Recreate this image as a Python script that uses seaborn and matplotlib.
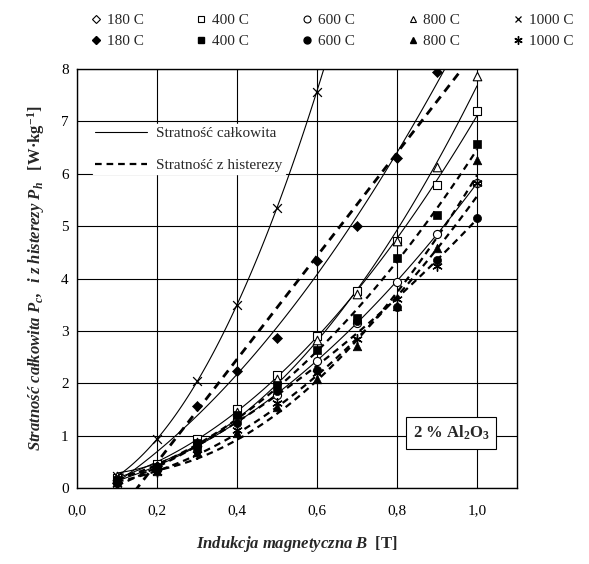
import numpy as np
import pandas as pd
import matplotlib
matplotlib.use("Agg")
import matplotlib.pyplot as plt
import seaborn as sns
from matplotlib.lines import Line2D
from matplotlib.ticker import MultipleLocator, FuncFormatter

# ---------------- data ----------------
B = [0.1, 0.2, 0.3, 0.4, 0.5, 0.6, 0.7, 0.8, 0.9, 1.0]
temps = ["180 C", "400 C", "600 C", "800 C", "1000 C"]

# total losses (open markers, solid trend lines)
total_180 = [0.20, 0.62, 1.30, 2.20, 3.08, 4.05, 5.20, 6.48, 7.75, 9.10]  # line only
total_400 = [0.20, 0.45, 0.93, 1.50, 2.16, 2.90, 3.77, 4.72, 5.78, 7.20]
total_600 = [0.15, 0.38, 0.80, 1.32, 1.78, 2.43, 3.15, 3.93, 4.85, 5.83]
total_800 = [0.22, 0.42, 0.88, 1.45, 2.08, 2.83, 3.70, 4.72, 6.13, 7.87]
total_1000 = [0.22, 0.93, 2.04, 3.50, 5.35, 7.57, 10.20, np.nan, np.nan, np.nan]

# hysteresis losses (filled markers, dashed trend lines)
hyst_180 = [0.10, 0.42, 1.57, 2.23, 2.87, 4.33, 5.00, 6.30, 7.94, 8.60]
hyst_400 = [0.15, 0.40, 0.85, 1.40, 1.97, 2.63, 3.25, 4.40, 5.22, 6.56]
hyst_600 = [0.10, 0.35, 0.75, 1.25, 1.85, 2.25, 3.18, 3.45, 4.35, 5.16]
hyst_800 = [0.12, 0.32, 0.68, 1.05, 1.55, 2.08, 2.72, 3.48, 4.59, 6.27]
hyst_1000 = [0.08, 0.30, 0.65, 1.10, 1.62, 2.20, 2.85, 3.60, 4.24, 5.83]

x_ticks = [0.0, 0.2, 0.4, 0.6, 0.8, 1.0]
y_ticks = [0, 1, 2, 3, 4, 5, 6, 7, 8]

# ---------------- style ----------------
sns.set_style("white")
plt.rcParams["font.family"] = ["Liberation Serif", "DejaVu Serif"]
plt.rcParams["mathtext.fontset"] = "custom"
plt.rcParams["mathtext.rm"] = "Liberation Serif"
plt.rcParams["mathtext.it"] = "Liberation Serif:italic"
plt.rcParams["mathtext.bf"] = "Liberation Serif:bold"
plt.rcParams["mathtext.bfit"] = "Liberation Serif:bold:italic"

W, H = 589, 564
fig = plt.figure(figsize=(W / 100, H / 100), dpi=100)
ax = fig.add_axes([77 / W, 1 - 488 / H, 440 / W, 419 / H])

open_sets = [(None, "D"), (total_400, "s"), (total_600, "o"), (total_800, "^"), (total_1000, "x")]
filled_sets = [(hyst_180, "D"), (hyst_400, "s"), (hyst_600, "o"), (hyst_800, "^"), (hyst_1000, (6, 2, 0))]
sizes = {"D": 26, "s": 34, "o": 34, "^": 38, "x": 40, (6, 2, 0): 46}

# trend lines
total_orders = [2, 2, 2, 2, 2]
hyst_orders = [1, 2, 2, 2, 2]
for vals, od in zip([total_180, total_400, total_600, total_800, total_1000], total_orders):
    sns.regplot(x=B, y=vals, order=od, ci=None, scatter=False, ax=ax,
                line_kws=dict(color="black", lw=0.8, zorder=2))
for i, (vals, od) in enumerate(zip([hyst_180, hyst_400, hyst_600, hyst_800, hyst_1000], hyst_orders)):
    sns.regplot(x=B, y=vals, order=od, ci=None, scatter=False, ax=ax,
                line_kws=dict(color="black", lw=2.0 if i == 0 else 1.6,
                              dashes=(3, 2.2), zorder=2))

# markers
for vals, m in open_sets:
    if vals is None:
        continue
    if m == "x":
        sns.scatterplot(x=B, y=vals, marker=m, s=sizes[m], color="black",
                        linewidth=0.9, ax=ax, zorder=4, legend=False)
    else:
        sns.scatterplot(x=B, y=vals, marker=m, s=sizes[m], facecolor="white",
                        edgecolor="black", linewidth=0.8, ax=ax, zorder=4, legend=False)
for vals, m in filled_sets:
    if isinstance(m, tuple):
        sns.scatterplot(x=B, y=vals, marker=m, s=sizes[m], color="black",
                        linewidth=1.0, ax=ax, zorder=4, legend=False)
    else:
        sns.scatterplot(x=B, y=vals, marker=m, s=sizes[m], color="black",
                        edgecolor="black", linewidth=0.5, ax=ax, zorder=4, legend=False)

# axes formatting
ax.set_xlim(0, 1.1)
ax.set_ylim(0, 8)
ax.set_xticks(x_ticks)
ax.set_yticks(y_ticks)
ax.xaxis.set_minor_locator(MultipleLocator(0.04))
ax.yaxis.set_minor_locator(MultipleLocator(0.2))
ax.xaxis.set_major_formatter(FuncFormatter(lambda v, p: f"{v:.1f}".replace(".", ",")))
ax.grid(True, which="major", color="black", lw=0.8)
ax.set_axisbelow(True)
ax.tick_params(which="both", direction="in", labelsize=11, colors="black")
ax.tick_params(which="major", length=0)
ax.tick_params(which="minor", length=4, width=0.8)
ax.tick_params(axis="x", which="major", pad=12)
ax.tick_params(axis="y", which="major", pad=6)
for sp in ax.spines.values():
    sp.set_visible(True)
    sp.set_color("black")
    sp.set_linewidth(1.0)

ax.set_xlabel(r"$\mathbfit{Indukcja\ magnetyczna\ B}\ \ \mathbf{[T]}$", fontsize=12, labelpad=12)
ax.set_ylabel(r"$\mathbfit{Stratność\ całkowita\ P}_{\mathbfit{c}}\mathbfit{,\ \ i\ z\ histerezy\ P}_{\mathbfit{h}}\ \ \ \mathbf{[W·kg^{-1}]}$",
              fontsize=12, labelpad=10)

# inner legend (line styles)
style_handles = [Line2D([], [], color="black", lw=0.8),
                 Line2D([], [], color="black", lw=1.6, dashes=(3, 2.2))]
leg_in = ax.legend(style_handles, ["Stratność całkowita", "Stratność z histerezy"],
                   loc="upper left", bbox_to_anchor=(0.025, 0.88), frameon=True,
                   facecolor="white", edgecolor="white", framealpha=1, fancybox=False,
                   handlelength=3.4, handletextpad=0.6, labelspacing=1.2, fontsize=11,
                   borderpad=0.15, borderaxespad=0.3)
leg_in.set_zorder(5)

# top legend (temperatures)
handles, labels = [], []
for t, (_, mo), (_, mf) in zip(temps, open_sets, filled_sets):
    if mo == "x":
        handles.append(Line2D([], [], ls="none", marker="x", color="black", ms=5, mew=0.9))
    else:
        handles.append(Line2D([], [], ls="none", marker=mo, mfc="white", mec="black",
                              ms=4.5 if mo == "D" else 5, mew=0.8))
    labels.append(t)
    if isinstance(mf, tuple):
        handles.append(Line2D([], [], ls="none", marker=mf, color="black", ms=6, mew=1.0))
    else:
        handles.append(Line2D([], [], ls="none", marker=mf, color="black",
                              ms=4.5 if mf == "D" else 5))
    labels.append(t)
fig.legend(handles, labels, ncol=5, loc="upper left", bbox_to_anchor=(76 / W, 1.0),
           frameon=False, fontsize=11, handlelength=0.8, handletextpad=0.3,
           columnspacing=3.4, labelspacing=0.45)

# annotation
ax.text(0.935, 1.05, r"2 % Al$_\mathbf{2}$O$_\mathbf{3}$", fontsize=12, fontweight="bold",
        ha="center", va="center", zorder=6,
        bbox=dict(boxstyle="square,pad=0.4", fc="white", ec="black", lw=0.8))

fig.savefig("out.png", dpi=100)
